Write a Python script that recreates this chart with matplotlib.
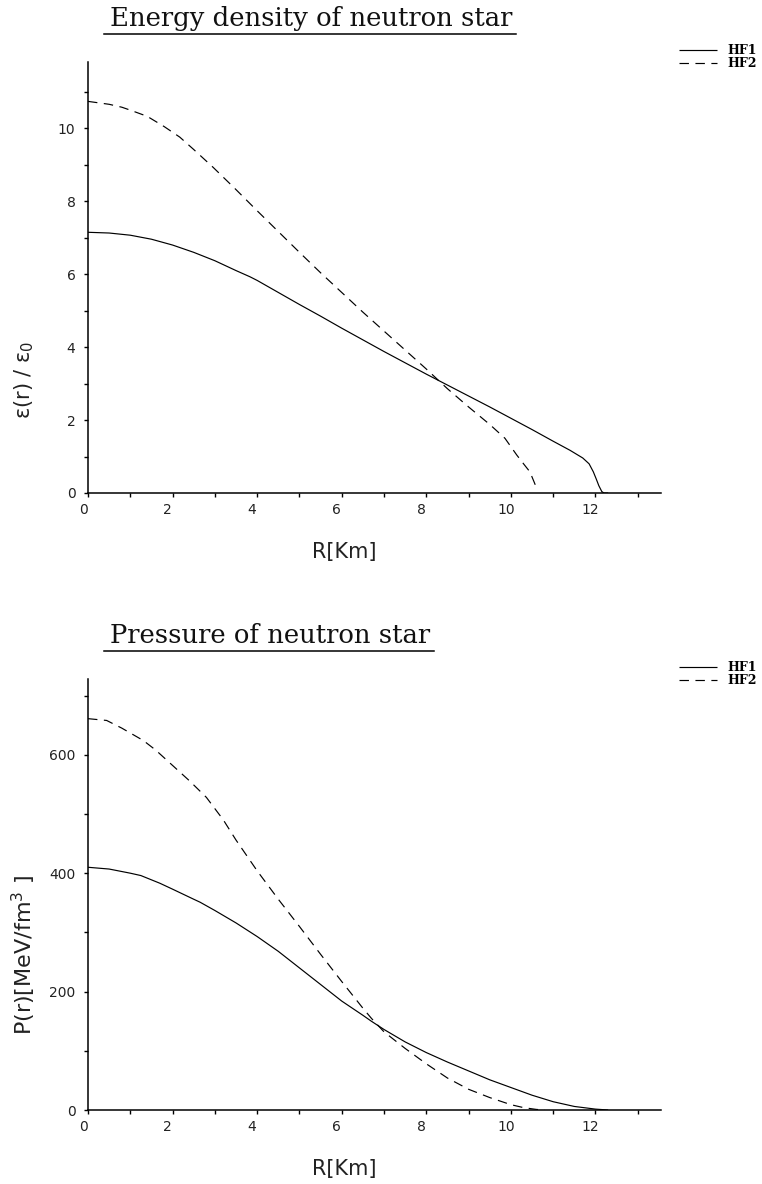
import matplotlib
matplotlib.use("Agg")
import matplotlib.pyplot as plt
import matplotlib.transforms as mtransforms
from matplotlib.lines import Line2D
from matplotlib.ticker import MultipleLocator

# ---- data: radius [km] and profiles ----
r_eps_hf1 = [0, 0.5, 1, 1.5, 2, 2.5, 3, 3.5, 3.83, 4, 4.5, 5, 5.5, 6, 6.5, 7, 7.5, 8,
             8.5, 9, 9.5, 10, 10.5, 11, 11.4, 11.7, 11.85, 11.95, 12.02, 12.08, 12.15, 12.2, 12.3]
eps_hf1 = [7.15, 7.13, 7.07, 6.96, 6.80, 6.60, 6.37, 6.10, 5.93, 5.83, 5.50, 5.17, 4.85, 4.52,
           4.20, 3.88, 3.57, 3.26, 2.96, 2.66, 2.36, 2.05, 1.74, 1.42, 1.17, 0.96, 0.80, 0.58,
           0.38, 0.20, 0.04, 0.0, 0.0]

r_eps_hf2 = [0, 0.5, 0.8, 1.0, 1.4, 1.8, 2.17, 2.5, 2.96, 3.5, 3.75, 4, 4.5, 5, 5.5, 6, 6.5,
             7, 7.5, 8, 8.5, 9, 9.5, 9.86, 10.14, 10.3, 10.45, 10.55, 10.62]
eps_hf2 = [10.74, 10.66, 10.58, 10.50, 10.33, 10.05, 9.76, 9.42, 8.93, 8.32, 8.03, 7.74, 7.17,
           6.60, 6.04, 5.50, 4.96, 4.44, 3.92, 3.40, 2.86, 2.36, 1.88, 1.50, 1.04, 0.80, 0.58,
           0.30, 0.10]

r_p_hf1 = [0, 0.5, 1, 1.25, 1.7, 2, 2.5, 2.65, 3, 3.5, 4, 4.5, 5, 5.5, 6, 6.5, 6.7, 7, 7.5,
           8, 8.5, 9, 9.5, 10, 10.5, 11, 11.5, 12, 12.3]
p_hf1 = [410, 407, 400, 396, 383, 373, 356, 351, 337, 316, 293, 268, 240, 212, 184, 160, 150,
         136, 115, 97, 81, 66, 51, 38, 25, 14, 6, 1.5, 0]

r_p_hf2 = [0, 0.44, 0.8, 1.31, 1.6, 2.0, 2.4, 2.8, 3.2, 3.5, 4, 4.5, 5, 5.5, 6, 6.5, 6.7, 7,
           7.5, 8, 8.5, 9, 9.5, 10, 10.3, 10.6, 10.8]
p_hf2 = [661, 658, 645, 624, 608, 582, 556, 528, 490, 456, 404, 356, 310, 263, 217, 172, 155,
         132, 104, 78, 54, 35, 21, 9, 4, 1, 0]

series_labels = ["HF1", "HF2"]
titles = ["Energy density of neutron star", "Pressure of neutron star"]
xlabel = "R[Km]"
ylabels = ["ε(r) / ε$_0$", "P(r)[MeV/fm$^{3}$ ]"]

# ---- layout (pixel based) ----
W, H = 762, 1184
fig = plt.figure(figsize=(W / 100, H / 100), dpi=100)


def axes_px(left, top, right, bottom):
    return fig.add_axes([left / W, 1 - bottom / H, (right - left) / W, (bottom - top) / H])


ax1 = axes_px(88, 62, 661, 493)
ax2 = axes_px(88, 679, 661, 1110)

tick_color = "#222222"
dash = (0, (8, 5.5))

panels = [
    (ax1, r_eps_hf1, eps_hf1, r_eps_hf2, eps_hf2, 11.82, 2, 1, 0.262, 15),
    (ax2, r_p_hf1, p_hf1, r_p_hf2, p_hf2, 728, 200, 100, 0.36, 16),
]

for i, (ax, xa, ya, xb, yb, ytop, ymaj, ymin, ylab_y, ylab_size) in enumerate(panels):
    l1, = ax.plot(xa, ya, color="black", lw=0.85, solid_capstyle="butt")
    l2, = ax.plot(xb, yb, color="black", lw=0.85, linestyle=dash)
    ax.set_xlim(0, 13.55)
    ax.set_ylim(0, ytop)
    for s in ("top", "right"):
        ax.spines[s].set_visible(False)
    for s in ("left", "bottom"):
        ax.spines[s].set_linewidth(1.1)
    ax.xaxis.set_major_locator(MultipleLocator(2))
    ax.xaxis.set_minor_locator(MultipleLocator(1))
    ax.yaxis.set_major_locator(MultipleLocator(ymaj))
    ax.yaxis.set_minor_locator(MultipleLocator(ymin))
    ax.tick_params(which="both", direction="out", length=3, width=1.0, color="black",
                   labelsize=10, labelcolor=tick_color, pad=4)
    ax.tick_params(axis="y", which="both", pad=6)
    shift = mtransforms.ScaledTranslation(-5 / 100, 0, fig.dpi_scale_trans)
    for lab in ax.get_xticklabels():
        lab.set_transform(lab.get_transform() + shift)

    ax.set_xlabel(xlabel, fontsize=15, color=tick_color)
    ax.xaxis.set_label_coords(0.447, -0.114)
    ax.set_ylabel(ylabels[i], fontsize=ylab_size, color=tick_color)
    ax.yaxis.label.set_verticalalignment("center")
    ax.yaxis.set_label_coords(-0.112, ylab_y)

    # legend in the upper right corner of the figure
    top_px = 62 if i == 0 else 679
    ax.legend([l1, l2], series_labels, loc="upper left",
              bbox_to_anchor=(679 / W, 1 - (top_px - 18) / H),
              bbox_transform=fig.transFigure, frameon=False,
              prop=dict(family="DejaVu Serif", weight="bold", size=9),
              handlelength=3.0, handletextpad=0.85, labelspacing=0.0,
              borderpad=0, borderaxespad=0)

# underlined titles
title_specs = [(titles[0], 26, 34), (titles[1], 643, 651)]
renderer = fig.canvas.get_renderer()
for text, base_px, line_px in title_specs:
    t = fig.text(110 / W, 1 - base_px / H, text, family="DejaVu Serif", fontsize=18.6,
                 ha="left", va="baseline", color="#111111")
    bb = t.get_window_extent(renderer=renderer)
    x0 = (bb.x0 - 6) / W
    x1 = (bb.x1 + 4) / W
    fig.add_artist(Line2D([x0, x1], [1 - line_px / H] * 2, transform=fig.transFigure,
                          color="black", lw=1.1))

fig.savefig("out.png", dpi=100)
